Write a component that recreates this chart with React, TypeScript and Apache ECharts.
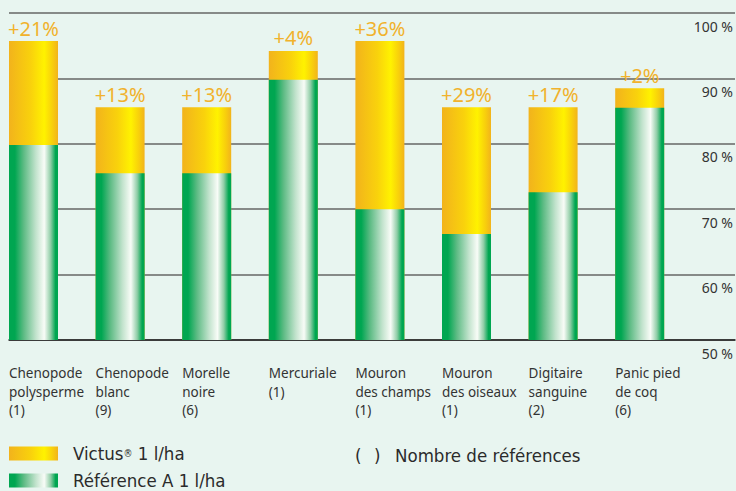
import React, { useEffect, useRef } from "react";
import * as echarts from "echarts";

const categories = [
  "Chenopode\npolysperme",
  "Chenopode\nblanc",
  "Morelle\nnoire",
  "Mercuriale",
  "Mouron\ndes champs",
  "Mouron\ndes oiseaux",
  "Digitaire\nsanguine",
  "Panic pied\nde coq",
];
const referenceCounts = [1, 9, 6, 1, 1, 1, 2, 6];
const referenceValues = [79.8, 75.5, 75.5, 89.8, 70.0, 66.2, 72.6, 85.5];
const victusValues = [95.7, 85.6, 85.6, 94.2, 95.7, 85.6, 85.6, 88.5];
const gainLabels = ["+21%", "+13%", "+13%", "+4%", "+36%", "+29%", "+17%", "+2%"];
const yTicks = [50, 60, 70, 80, 90, 100];

const VICTUS = "Victus® 1 l/ha";
const REFERENCE = "Référence A 1 l/ha";

const BG = "#e8f5f0";
const NARROW = '"Liberation Sans Narrow", "DejaVu Sans Condensed", "Noto Sans", sans-serif';
const SANS = '"Noto Sans", "Open Sans", sans-serif';
const LEG_SIZE = 18.5;

const yellowGradient = new echarts.graphic.LinearGradient(0, 0, 1, 0, [
  { offset: 0, color: "#f2b31c" },
  { offset: 0.45, color: "#f9d20c" },
  { offset: 0.72, color: "#fff200" },
  { offset: 0.88, color: "#f8d00c" },
  { offset: 1, color: "#f2b31c" },
]);
const greenGradient = new echarts.graphic.LinearGradient(0, 0, 1, 0, [
  { offset: 0, color: "#00a651" },
  { offset: 0.12, color: "#00a651" },
  { offset: 0.3, color: "#5dbb84" },
  { offset: 0.55, color: "#c2e3cd" },
  { offset: 0.72, color: "#f8fcf7" },
  { offset: 0.85, color: "#8fcda6" },
  { offset: 0.95, color: "#00a651" },
  { offset: 1, color: "#00a651" },
]);

export default function App() {
  const ref = useRef<HTMLDivElement>(null);
  useEffect(() => {
    if (!ref.current) return;
    const chart = echarts.init(ref.current, null, { renderer: "svg" });
    const yMin = yTicks[0];
    const yMax = yTicks[yTicks.length - 1];
    const labels = categories.map((c, i) => `${c}\n(${referenceCounts[i]})`);
    // layout (pixels)
    const gridLeft = 9;
    const gridWidth = 726;
    const step = 86.6;
    const firstCenter = 33.5;
    const barW = 49;
    const gridTop = 13;
    const gridBottom = 491 - 340;
    const xMin = -(firstCenter - gridLeft) / step;
    const xMax = xMin + gridWidth / step;
    const legendText = {
      padding: [0, 0, 0, 10],
      rich: {
        a: { fontFamily: NARROW, fontSize: LEG_SIZE, lineHeight: 22, color: "#2b2b2b" },
        r: { fontFamily: NARROW, fontSize: 10, lineHeight: 22, color: "#2b2b2b" },
      },
    };
    chart.setOption({
      animation: false,
      backgroundColor: BG,
      grid: [
        { left: gridLeft, width: gridWidth, top: gridTop, bottom: gridBottom },
        { left: gridLeft, width: step * 7, top: gridTop, bottom: gridBottom },
      ],
      xAxis: [
        {
          gridIndex: 0,
          type: "value",
          min: xMin,
          max: xMax,
          axisLine: { show: true, onZero: false, lineStyle: { color: "#222", width: 1.5 } },
          axisTick: { show: false },
          axisLabel: { show: false },
          splitLine: { show: false },
        },
        {
          gridIndex: 1,
          type: "category",
          boundaryGap: false,
          data: labels,
          axisLine: { show: false },
          axisTick: { show: false },
          axisLabel: {
            interval: 0,
            align: "left",
            verticalAlign: "top",
            margin: 24,
            fontFamily: SANS,
            fontSize: 13.5,
            lineHeight: 18.5,
            color: "#333",
          },
        },
      ],
      yAxis: [
        {
          gridIndex: 0,
          type: "value",
          position: "right",
          min: yMin,
          max: yMax,
          interval: 10,
          axisLine: { show: false },
          axisTick: { show: false },
          splitLine: { show: true, lineStyle: { color: "#666", width: 1.5 } },
          axisLabel: {
            inside: true,
            margin: 2,
            align: "right",
            verticalAlign: "top",
            padding: [6, 0, 0, 0],
            fontFamily: SANS,
            fontSize: 14,
            color: "#333",
            formatter: (v: number) => `${v} %`,
          },
        },
        { gridIndex: 1, type: "value", min: 0, max: 1, show: false },
      ],
      legend: [
        {
          left: 9,
          top: 444,
          padding: 0,
          itemWidth: barW,
          itemHeight: 14,
          icon: "rect",
          data: [VICTUS],
          formatter: () => "{a|Victus}{r|®}{a| 1 l/ha}",
          textStyle: legendText,
        },
        {
          left: 9,
          top: 471,
          padding: 0,
          itemWidth: barW,
          itemHeight: 14,
          icon: "rect",
          data: [REFERENCE],
          formatter: (name: string) => `{a|${name}}`,
          textStyle: legendText,
        },
      ],
      graphic: [
        {
          type: "text",
          left: 355,
          top: 444,
          style: { text: "(", fontFamily: NARROW, fontSize: LEG_SIZE, lineHeight: 22, fill: "#2b2b2b" },
        },
        {
          type: "text",
          left: 374,
          top: 444,
          style: { text: ")", fontFamily: NARROW, fontSize: LEG_SIZE, lineHeight: 22, fill: "#2b2b2b" },
        },
        {
          type: "text",
          left: 395,
          top: 444,
          style: {
            text: "Nombre de références",
            fontFamily: NARROW,
            fontSize: LEG_SIZE,
            lineHeight: 22,
            fill: "#2b2b2b",
          },
        },
      ],
      series: [
        {
          name: VICTUS,
          type: "bar",
          xAxisIndex: 0,
          yAxisIndex: 0,
          barWidth: barW,
          barGap: "-100%",
          data: victusValues.map((v, i) => [i, v]),
          itemStyle: { color: yellowGradient },
          label: {
            show: true,
            position: "top",
            distance: 3,
            fontFamily: SANS,
            fontSize: 20,
            color: "#f1b22c",
            formatter: (p: any) => gainLabels[p.dataIndex],
          },
        },
        {
          name: REFERENCE,
          type: "bar",
          xAxisIndex: 0,
          yAxisIndex: 0,
          barWidth: barW,
          barGap: "-100%",
          data: referenceValues.map((v, i) => [i, v]),
          itemStyle: { color: greenGradient },
        },
      ],
    });
    return () => chart.dispose();
  }, []);
  return (
    <div
      ref={ref}
      style={{ position: "fixed", left: 0, top: 0, width: 736, height: 491, background: BG }}
    />
  );
}
